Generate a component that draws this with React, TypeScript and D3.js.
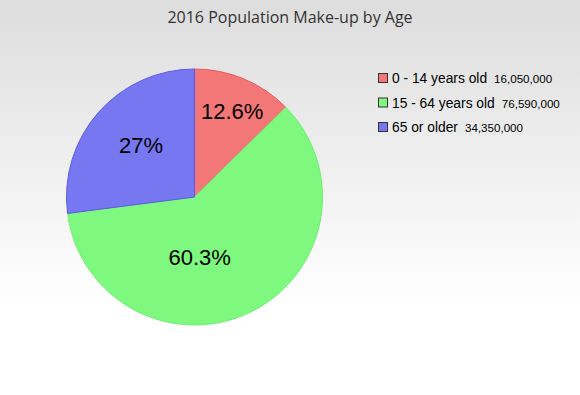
import React, { useRef, useEffect } from 'react';
import * as d3 from 'd3';

const title = '2016 Population Make-up by Age';
const groups = ['0 - 14 years old', '15 - 64 years old', '65 or older'];
const population = [16050000, 76590000, 34350000];
const colors = ['#f47777', '#7ff87f', '#7777f2'];
const strokes = ['#f05a5a', '#6ef06e', '#5a5ae6'];

const App = () => {
  const ref = useRef<SVGSVGElement>(null);

  useEffect(() => {
    document.body.style.margin = '0';
    const svg = d3.select(ref.current);
    svg.selectAll('*').remove();

    const width = 580;
    const height = 395;
    const cx = 194.5;
    const cy = 197;
    const r = 128;

    // background gradient
    const defs = svg.append('defs');
    const grad = defs.append('linearGradient').attr('id', 'bg').attr('x1', 0).attr('y1', 0).attr('x2', 0).attr('y2', 1);
    grad.append('stop').attr('offset', '0%').attr('stop-color', '#dddddd');
    grad.append('stop').attr('offset', '78%').attr('stop-color', '#ffffff');
    grad.append('stop').attr('offset', '100%').attr('stop-color', '#ffffff');
    svg.append('rect').attr('width', width).attr('height', height).attr('fill', 'url(#bg)');

    svg.append('text')
      .attr('x', 290).attr('y', 23)
      .attr('text-anchor', 'middle')
      .attr('font-family', '"Open Sans", sans-serif')
      .attr('font-size', 16)
      .attr('fill', '#333')
      .text(title);

    const total = d3.sum(population);
    const data = groups.map((g, i) => ({ g, v: population[i], i }));
    const pie = d3.pie<any>().value(d => d.v).sort(null);
    const arcs = pie(data);
    const arc = d3.arc<any>().innerRadius(0).outerRadius(r);

    const g = svg.append('g').attr('transform', `translate(${cx},${cy})`);
    g.selectAll('path').data(arcs).join('path')
      .attr('d', arc)
      .attr('fill', d => colors[d.data.i])
      .attr('stroke', d => strokes[d.data.i])
      .attr('stroke-width', 1);

    // label placement per slice: radius fraction and angle shift (degrees)
    const labelR = [0.73, 0.47, 0.58];
    const labelShift = [1, 21, 2.5];
    g.selectAll('text.pct').data(arcs).join('text')
      .attr('class', 'pct')
      .attr('transform', d => {
        const a = (d.startAngle + d.endAngle) / 2 + (labelShift[d.data.i] * Math.PI) / 180;
        const lr = r * labelR[d.data.i];
        return `translate(${Math.sin(a) * lr},${-Math.cos(a) * lr})`;
      })
      .attr('text-anchor', 'middle')
      .attr('dy', '0.35em')
      .attr('font-family', '"Liberation Sans", Arial, sans-serif')
      .attr('font-size', 22)
      .attr('fill', '#000')
      .text(d => {
        const p = Math.round((d.data.v / total) * 1000) / 10;
        return `${p}%`;
      });

    // legend
    const legend = svg.append('g').attr('transform', 'translate(378,73)');
    const rows = legend.selectAll('g').data(data).join('g')
      .attr('transform', d => `translate(0,${d.i * 24.5})`);
    rows.append('rect')
      .attr('x', 0.5).attr('y', 0.5).attr('width', 9).attr('height', 9)
      .attr('fill', d => colors[d.i])
      .attr('stroke', '#333').attr('stroke-width', 1);
    const t = rows.append('text')
      .attr('x', 14).attr('y', 10)
      .attr('font-family', '"Liberation Sans", Arial, sans-serif')
      .attr('fill', '#000');
    t.append('tspan').attr('font-size', 13.8).text(d => d.g);
    t.append('tspan').attr('font-size', 11.6).attr('dx', 7).text(d => d3.format(',')(d.v));
  }, []);

  return <svg ref={ref} width={580} height={395} style={{ display: 'block' }} />;
};

export default App;
